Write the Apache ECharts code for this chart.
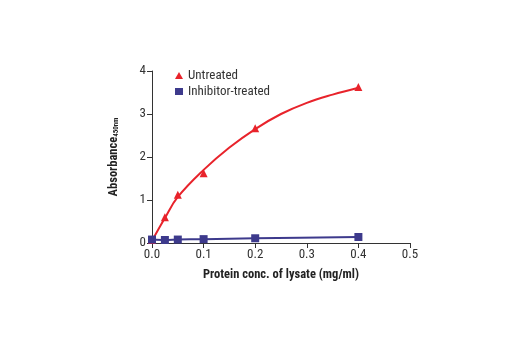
<!DOCTYPE html>
<html><head><meta charset="utf-8">
<script src="https://cdn.jsdelivr.net/npm/echarts@6/dist/echarts.min.js"></script>
<style>html,body{margin:0;padding:0;background:#fff}#c{width:520px;height:350px}</style>
</head><body><div id="c"></div>
<script>
// measured points
var concentrations = [0, 0.025, 0.05, 0.1, 0.2, 0.4];
var untreated = [0.07, 0.6, 1.12, 1.62, 2.67, 3.63];
var inhibitorTreated = [0.08, 0.07, 0.08, 0.09, 0.11, 0.14];
// fitted curve for untreated
var fitX = [0, 0.025, 0.05, 0.1, 0.15, 0.2, 0.25, 0.3, 0.35, 0.4];
var fitUntreated = [0.05, 0.58, 1.07, 1.7, 2.22, 2.65, 3.0, 3.26, 3.45, 3.61];
var xTicks = [0, 0.1, 0.2, 0.3, 0.4, 0.5];
var yTicks = [0, 1, 2, 3, 4];
var seriesNames = ['Untreated', 'Inhibitor-treated'];

var FONT = "'Liberation Sans Narrow', 'Arial Narrow', 'Roboto Condensed', 'Liberation Sans', sans-serif";
function pairs(xs, ys){ return xs.map(function(x,i){ return [x, ys[i]]; }); }
var RED = '#e8232b', NAVY = '#3d3a8c';

var chart = echarts.init(document.getElementById('c'), null, {renderer:'canvas'});
chart.setOption({
  animation:false,
  textStyle:{fontFamily:FONT},
  grid:{left:152, right:110, top:71, bottom:107},
  legend:{
    orient:'vertical', left:170, top:64, itemGap:3, itemWidth:8, itemHeight:7,
    textStyle:{fontFamily:FONT, fontSize:13, color:'#333'},
    data:[{name:seriesNames[0], icon:'triangle'},{name:seriesNames[1], icon:'rect'}]
  },
  xAxis:{
    type:'value', min:xTicks[0], max:xTicks[xTicks.length-1], interval:0.1,
    axisLine:{lineStyle:{color:'#333', width:1}},
    axisTick:{show:true, length:5, lineStyle:{color:'#333'}},
    splitLine:{show:false},
    axisLabel:{color:'#333', fontSize:13, margin:5, fontFamily:FONT, formatter:function(v){return v.toFixed(1);}},
    name:'Protein conc. of lysate (mg/ml)', nameLocation:'middle', nameGap:25,
    nameTextStyle:{fontWeight:'bold', fontSize:12.5, color:'#222', fontFamily:FONT}
  },
  yAxis:{
    type:'value', min:yTicks[0], max:yTicks[yTicks.length-1], interval:1,
    axisLine:{show:true, lineStyle:{color:'#333', width:1}},
    axisTick:{show:true, length:5, lineStyle:{color:'#333'}},
    splitLine:{show:false},
    axisLabel:{color:'#333', fontSize:13, margin:6, fontFamily:FONT},
    name:'{a|Absorbance}{s|450nm}', nameLocation:'middle', nameGap:32,
    nameTextStyle:{
      fontFamily:FONT,
      rich:{
        a:{fontWeight:'bold', fontSize:12.5, color:'#222', fontFamily:FONT},
        s:{fontWeight:'bold', fontSize:7, color:'#222', fontFamily:FONT, verticalAlign:'bottom', padding:[6,0,0,0]}
      }
    }
  },
  series:[
    {name:'fit-untreated', type:'line', smooth:0.4, data:pairs(fitX, fitUntreated),
     showSymbol:false, symbol:'none', lineStyle:{width:2, color:RED}, z:2},
    {name:'fit-inhibitor', type:'line', smooth:0.3, data:pairs(concentrations, inhibitorTreated),
     showSymbol:false, symbol:'none', lineStyle:{width:2, color:NAVY}, z:2},
    {name:seriesNames[0], type:'scatter', data:pairs(concentrations, untreated),
     symbol:'triangle', symbolSize:8, itemStyle:{color:RED, opacity:1}, z:3},
    {name:seriesNames[1], type:'scatter', data:pairs(concentrations, inhibitorTreated),
     symbol:'rect', symbolSize:8, itemStyle:{color:NAVY, opacity:1}, z:3}
  ]
});
</script></body></html>
